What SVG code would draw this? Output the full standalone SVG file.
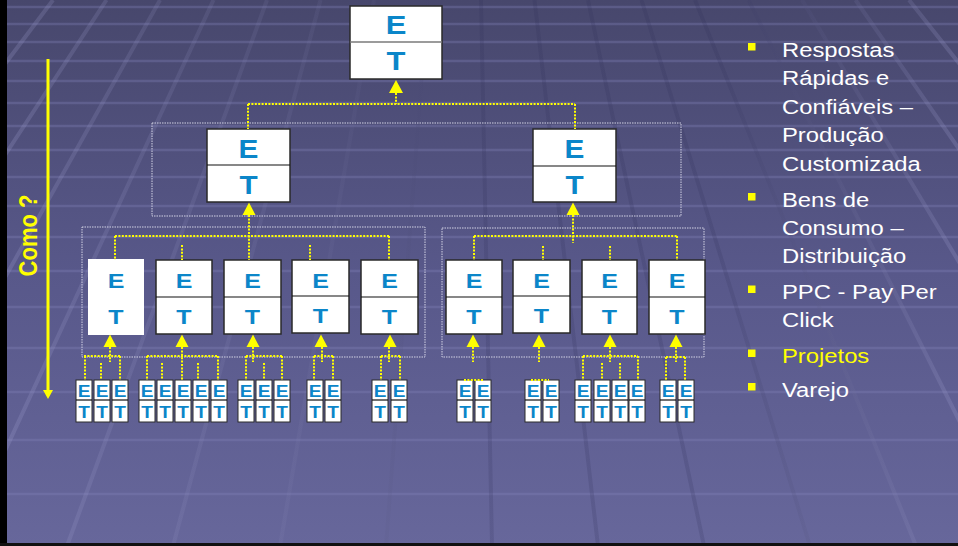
<svg xmlns="http://www.w3.org/2000/svg" width="958" height="546" viewBox="0 0 958 546">
<defs>
<linearGradient id="bg" x1="0" y1="0" x2="0" y2="1">
<stop offset="0" stop-color="#47476c"/>
<stop offset="0.5" stop-color="#58588a"/>
<stop offset="1" stop-color="#67679b"/>
</linearGradient>
<linearGradient id="vg" gradientUnits="userSpaceOnUse" x1="0" y1="0" x2="958" y2="0">
<stop offset="0" stop-color="#a0a0d0" stop-opacity="0.24"/>
<stop offset="0.3" stop-color="#8a8ab8" stop-opacity="0.12"/>
<stop offset="0.5" stop-color="#2c2c55" stop-opacity="0.18"/>
<stop offset="0.75" stop-color="#2c2c55" stop-opacity="0.18"/>
<stop offset="1" stop-color="#a0a0d0" stop-opacity="0.24"/>
</linearGradient>
<style>
.hl{stroke:#8282b6;stroke-opacity:0.35;stroke-width:2.5}
.vl{stroke:url(#vg);stroke-width:4}
.box{fill:#fff;stroke:#2a2a2a;stroke-width:1.5}
.sb{fill:#fff;stroke:#2a2a2a;stroke-width:1}
.dv{stroke:#111;stroke-width:1.2}
.lt{font-family:"Liberation Sans",Arial,sans-serif;font-weight:bold;fill:#0b86c9;text-anchor:middle}
.f1{font-size:26px}.f2{font-size:25px}.f3{font-size:21px}.f4{font-size:16px}
.dot{fill:none;stroke:#ffff00;stroke-width:2;stroke-dasharray:2 1.4}
.cont{fill:none;stroke:#d2d2e4;stroke-width:1;stroke-dasharray:1.5 1}
.ah{fill:#ffff00}
.tx{font-family:"Liberation Sans",Arial,sans-serif;font-size:20px;fill:#ffffff}
</style>
</defs>
<g id="background">
<rect x="0" y="0" width="958" height="546" fill="url(#bg)"/>
<path class="hl" d="M0,7H958M0,24H958M0,42H958M0,61H958M0,81H958M0,103H958M0,126H958M0,150H958M0,177H958M0,206H958M0,237H958M0,271H958M0,307H958M0,348H958M0,392H958M0,440H958M0,494H958"/>
<path class="vl" d="M53,0L-357,546M106.5,0L-251,546M160,0L-145,546M213.5,0L-39,546M267,0L67,546M320.5,0L173,546M374,0L280,546M427.5,0L386,546M481,0L492,546M534.5,0L598,546M588,0L704,546M641.5,0L810,546M695,0L916,546M748.5,0L1022,546M802,0L1129,546M855.5,0L1235,546M909,0L1341,546"/>
<rect x="0" y="0" width="7" height="546" fill="#000"/>
<rect x="0" y="543" width="958" height="3" fill="#111"/>
</g>
<g id="containers">
<rect class="cont" x="152" y="123" width="529" height="93"/>
<rect class="cont" x="82" y="227" width="343" height="130"/>
<rect class="cont" x="442" y="228" width="262" height="129"/>
</g>
<g id="como">
<line x1="48" y1="59" x2="48" y2="391" stroke="#ffff00" stroke-width="3"/>
<polygon class="ah" points="43,390 53,390 48,399"/>
<text transform="translate(37,235.5) scale(1.19,1) rotate(-90)" font-family="Liberation Sans, Arial, sans-serif" font-weight="bold" font-size="22" fill="#ffff00" text-anchor="middle">Como ?</text>
</g>
<g id="n-top"><rect class="box" x="350" y="6" width="92" height="73"/><line x1="350" y1="42" x2="442" y2="42" stroke="#7a7a7a" stroke-width="1.5"/><text class="lt f1" transform="translate(396,34) scale(1.19,1)">E</text><text class="lt f1" transform="translate(396,70) scale(1.19,1)">T</text></g>
<g id="n-l2a"><rect class="box" x="207" y="129" width="83" height="73"/><line class="dv" x1="207" y1="165" x2="290" y2="165"/><text class="lt f2" transform="translate(248.5,158) scale(1.19,1)">E</text><text class="lt f2" transform="translate(248.5,194) scale(1.19,1)">T</text></g>
<g id="n-l2b"><rect class="box" x="533" y="129" width="83" height="73"/><line class="dv" x1="533" y1="166" x2="616" y2="166"/><text class="lt f2" transform="translate(574.5,158) scale(1.19,1)">E</text><text class="lt f2" transform="translate(574.5,194) scale(1.19,1)">T</text></g>
<g id="n-l3-1"><rect x="88" y="259" width="56" height="76" fill="#fff"/><text class="lt f3" transform="translate(116,288) scale(1.19,1)">E</text><text class="lt f3" transform="translate(116,324) scale(1.19,1)">T</text></g>
<g id="n-l3-2"><rect class="box" x="156" y="260" width="56" height="74"/><line class="dv" x1="156" y1="297" x2="212" y2="297"/><text class="lt f3" transform="translate(184,288) scale(1.19,1)">E</text><text class="lt f3" transform="translate(184,324) scale(1.19,1)">T</text></g>
<g id="n-l3-3"><rect class="box" x="224" y="260" width="57" height="74"/><line class="dv" x1="224" y1="297" x2="281" y2="297"/><text class="lt f3" transform="translate(252.5,288) scale(1.19,1)">E</text><text class="lt f3" transform="translate(252.5,324) scale(1.19,1)">T</text></g>
<g id="n-l3-4"><rect class="box" x="292" y="260" width="57" height="73"/><line class="dv" x1="292" y1="296" x2="349" y2="296"/><text class="lt f3" transform="translate(320.5,288) scale(1.19,1)">E</text><text class="lt f3" transform="translate(320.5,323) scale(1.19,1)">T</text></g>
<g id="n-l3-5"><rect class="box" x="361" y="260" width="57" height="74"/><line class="dv" x1="361" y1="297" x2="418" y2="297"/><text class="lt f3" transform="translate(389.5,288) scale(1.19,1)">E</text><text class="lt f3" transform="translate(389.5,324) scale(1.19,1)">T</text></g>
<g id="n-l3-6"><rect class="box" x="446" y="260" width="56" height="74"/><line class="dv" x1="446" y1="297" x2="502" y2="297"/><text class="lt f3" transform="translate(474,288) scale(1.19,1)">E</text><text class="lt f3" transform="translate(474,324) scale(1.19,1)">T</text></g>
<g id="n-l3-7"><rect class="box" x="513" y="260" width="57" height="73"/><line class="dv" x1="513" y1="296" x2="570" y2="296"/><text class="lt f3" transform="translate(541.5,288) scale(1.19,1)">E</text><text class="lt f3" transform="translate(541.5,323) scale(1.19,1)">T</text></g>
<g id="n-l3-8"><rect class="box" x="582" y="260" width="55" height="74"/><line class="dv" x1="582" y1="297" x2="637" y2="297"/><text class="lt f3" transform="translate(609.5,288) scale(1.19,1)">E</text><text class="lt f3" transform="translate(609.5,324) scale(1.19,1)">T</text></g>
<g id="n-l3-9"><rect class="box" x="649" y="260" width="56" height="74"/><line class="dv" x1="649" y1="297" x2="705" y2="297"/><text class="lt f3" transform="translate(677,288) scale(1.19,1)">E</text><text class="lt f3" transform="translate(677,324) scale(1.19,1)">T</text></g>
<g id="n-a1"><rect class="sb" x="76" y="380" width="16" height="42"/><line class="dv" x1="76" y1="400" x2="92" y2="400"/><text class="lt f4" transform="translate(84,397) scale(1.19,1)">E</text><text class="lt f4" transform="translate(84,418) scale(1.19,1)">T</text></g>
<g id="n-a2"><rect class="sb" x="94" y="380" width="16" height="42"/><line class="dv" x1="94" y1="400" x2="110" y2="400"/><text class="lt f4" transform="translate(102,397) scale(1.19,1)">E</text><text class="lt f4" transform="translate(102,418) scale(1.19,1)">T</text></g>
<g id="n-a3"><rect class="sb" x="112" y="380" width="16" height="42"/><line class="dv" x1="112" y1="400" x2="128" y2="400"/><text class="lt f4" transform="translate(120,397) scale(1.19,1)">E</text><text class="lt f4" transform="translate(120,418) scale(1.19,1)">T</text></g>
<g id="n-b1"><rect class="sb" x="139" y="380" width="16" height="42"/><line class="dv" x1="139" y1="400" x2="155" y2="400"/><text class="lt f4" transform="translate(147,397) scale(1.19,1)">E</text><text class="lt f4" transform="translate(147,418) scale(1.19,1)">T</text></g>
<g id="n-b2"><rect class="sb" x="157" y="380" width="16" height="42"/><line class="dv" x1="157" y1="400" x2="173" y2="400"/><text class="lt f4" transform="translate(165,397) scale(1.19,1)">E</text><text class="lt f4" transform="translate(165,418) scale(1.19,1)">T</text></g>
<g id="n-b3"><rect class="sb" x="175" y="380" width="16" height="42"/><line class="dv" x1="175" y1="400" x2="191" y2="400"/><text class="lt f4" transform="translate(183,397) scale(1.19,1)">E</text><text class="lt f4" transform="translate(183,418) scale(1.19,1)">T</text></g>
<g id="n-b4"><rect class="sb" x="193" y="380" width="16" height="42"/><line class="dv" x1="193" y1="400" x2="209" y2="400"/><text class="lt f4" transform="translate(201,397) scale(1.19,1)">E</text><text class="lt f4" transform="translate(201,418) scale(1.19,1)">T</text></g>
<g id="n-b5"><rect class="sb" x="211" y="380" width="16" height="42"/><line class="dv" x1="211" y1="400" x2="227" y2="400"/><text class="lt f4" transform="translate(219,397) scale(1.19,1)">E</text><text class="lt f4" transform="translate(219,418) scale(1.19,1)">T</text></g>
<g id="n-c1"><rect class="sb" x="238" y="380" width="16" height="42"/><line class="dv" x1="238" y1="400" x2="254" y2="400"/><text class="lt f4" transform="translate(246,397) scale(1.19,1)">E</text><text class="lt f4" transform="translate(246,418) scale(1.19,1)">T</text></g>
<g id="n-c2"><rect class="sb" x="256" y="380" width="16" height="42"/><line class="dv" x1="256" y1="400" x2="272" y2="400"/><text class="lt f4" transform="translate(264,397) scale(1.19,1)">E</text><text class="lt f4" transform="translate(264,418) scale(1.19,1)">T</text></g>
<g id="n-c3"><rect class="sb" x="274" y="380" width="16" height="42"/><line class="dv" x1="274" y1="400" x2="290" y2="400"/><text class="lt f4" transform="translate(282,397) scale(1.19,1)">E</text><text class="lt f4" transform="translate(282,418) scale(1.19,1)">T</text></g>
<g id="n-d1"><rect class="sb" x="307" y="380" width="16" height="42"/><line class="dv" x1="307" y1="400" x2="323" y2="400"/><text class="lt f4" transform="translate(315,397) scale(1.19,1)">E</text><text class="lt f4" transform="translate(315,418) scale(1.19,1)">T</text></g>
<g id="n-d2"><rect class="sb" x="325" y="380" width="16" height="42"/><line class="dv" x1="325" y1="400" x2="341" y2="400"/><text class="lt f4" transform="translate(333,397) scale(1.19,1)">E</text><text class="lt f4" transform="translate(333,418) scale(1.19,1)">T</text></g>
<g id="n-e1"><rect class="sb" x="372" y="380" width="16" height="42"/><line class="dv" x1="372" y1="400" x2="388" y2="400"/><text class="lt f4" transform="translate(380,397) scale(1.19,1)">E</text><text class="lt f4" transform="translate(380,418) scale(1.19,1)">T</text></g>
<g id="n-e2"><rect class="sb" x="391" y="380" width="16" height="42"/><line class="dv" x1="391" y1="400" x2="407" y2="400"/><text class="lt f4" transform="translate(399,397) scale(1.19,1)">E</text><text class="lt f4" transform="translate(399,418) scale(1.19,1)">T</text></g>
<g id="n-f1"><rect class="sb" x="457" y="380" width="16" height="42"/><line class="dv" x1="457" y1="400" x2="473" y2="400"/><text class="lt f4" transform="translate(465,397) scale(1.19,1)">E</text><text class="lt f4" transform="translate(465,418) scale(1.19,1)">T</text></g>
<g id="n-f2"><rect class="sb" x="475" y="380" width="16" height="42"/><line class="dv" x1="475" y1="400" x2="491" y2="400"/><text class="lt f4" transform="translate(483,397) scale(1.19,1)">E</text><text class="lt f4" transform="translate(483,418) scale(1.19,1)">T</text></g>
<g id="n-g1"><rect class="sb" x="525" y="380" width="16" height="42"/><line class="dv" x1="525" y1="400" x2="541" y2="400"/><text class="lt f4" transform="translate(533,397) scale(1.19,1)">E</text><text class="lt f4" transform="translate(533,418) scale(1.19,1)">T</text></g>
<g id="n-g2"><rect class="sb" x="543" y="380" width="16" height="42"/><line class="dv" x1="543" y1="400" x2="559" y2="400"/><text class="lt f4" transform="translate(551,397) scale(1.19,1)">E</text><text class="lt f4" transform="translate(551,418) scale(1.19,1)">T</text></g>
<g id="n-h1"><rect class="sb" x="575" y="380" width="16" height="42"/><line class="dv" x1="575" y1="400" x2="591" y2="400"/><text class="lt f4" transform="translate(583,397) scale(1.19,1)">E</text><text class="lt f4" transform="translate(583,418) scale(1.19,1)">T</text></g>
<g id="n-h2"><rect class="sb" x="594" y="380" width="16" height="42"/><line class="dv" x1="594" y1="400" x2="610" y2="400"/><text class="lt f4" transform="translate(602,397) scale(1.19,1)">E</text><text class="lt f4" transform="translate(602,418) scale(1.19,1)">T</text></g>
<g id="n-h3"><rect class="sb" x="612" y="380" width="16" height="42"/><line class="dv" x1="612" y1="400" x2="628" y2="400"/><text class="lt f4" transform="translate(620,397) scale(1.19,1)">E</text><text class="lt f4" transform="translate(620,418) scale(1.19,1)">T</text></g>
<g id="n-h4"><rect class="sb" x="629" y="380" width="16" height="42"/><line class="dv" x1="629" y1="400" x2="645" y2="400"/><text class="lt f4" transform="translate(637,397) scale(1.19,1)">E</text><text class="lt f4" transform="translate(637,418) scale(1.19,1)">T</text></g>
<g id="n-i1"><rect class="sb" x="660" y="380" width="16" height="42"/><line class="dv" x1="660" y1="400" x2="676" y2="400"/><text class="lt f4" transform="translate(668,397) scale(1.19,1)">E</text><text class="lt f4" transform="translate(668,418) scale(1.19,1)">T</text></g>
<g id="n-i2"><rect class="sb" x="678" y="380" width="16" height="42"/><line class="dv" x1="678" y1="400" x2="694" y2="400"/><text class="lt f4" transform="translate(686,397) scale(1.19,1)">E</text><text class="lt f4" transform="translate(686,418) scale(1.19,1)">T</text></g>
<g id="connectors">
<path class="dot" d="M396,93V104M248,104H575M248,104V129M575,104V129"/>
<path class="dot" d="M249,215V260M115,236H389M115,236V260M389,236V260M182,245V260M310,245V260"/>
<path class="dot" d="M573,215V243M474,236H677M474,236V260M677,236V260M543,246V260M610,246V260"/>
<path class="dot" d="M110,347V362M84,356H121M85,356V380M120,356V380M101,363V380"/>
<path class="dot" d="M182,347V380M147,356H218M147,356V380M218,356V380M162,363V380M198,363V380"/>
<path class="dot" d="M253,347V362M246,356H282M246,356V380M282,356V380M264,363V380"/>
<path class="dot" d="M322,347V362M314,356H333M314,356V380M333,356V380"/>
<path class="dot" d="M389,347V362M381,356H400M381,356V380M400,356V380"/>
<path class="dot" d="M473,347V362M464,380H483"/>
<path class="dot" d="M539,347V362M531,380H549"/>
<path class="dot" d="M610,347V362M583,356H638M583,356V380M638,356V380M602,363V380M620,363V380"/>
<path class="dot" d="M676,347V362M666,357H685M666,357V380M685,357V380"/>
<polygon class="ah" points="389,93 403,93 396,80"/>
<polygon class="ah" points="242.5,215 255.5,215 249,202.5"/>
<polygon class="ah" points="566.5,215 579.5,215 573,202.5"/>
<polygon class="ah" points="103.5,347 116.5,347 110,334.5"/>
<polygon class="ah" points="175.5,347 188.5,347 182,334.5"/>
<polygon class="ah" points="246.5,347 259.5,347 253,334.5"/>
<polygon class="ah" points="314.5,347 327.5,347 321,334.5"/>
<polygon class="ah" points="383.5,347 396.5,347 390,334.5"/>
<polygon class="ah" points="466.5,347 479.5,347 473,334.5"/>
<polygon class="ah" points="532.5,347 545.5,347 539,334.5"/>
<polygon class="ah" points="603.5,347 616.5,347 610,334.5"/>
<polygon class="ah" points="669.5,347 682.5,347 676,334.5"/>
</g>
<g id="bullets">
<rect class="ah" x="748" y="43" width="7.5" height="7.5"/>
<rect class="ah" x="748" y="193" width="7.5" height="7.5"/>
<rect class="ah" x="748" y="285.5" width="7.5" height="7.5"/>
<rect class="ah" x="748" y="349.5" width="7.5" height="7.5"/>
<rect class="ah" x="748" y="383" width="7.5" height="7.5"/>
<g transform="translate(782,0) scale(1.19,1)">
<text class="tx" x="0" y="57">Respostas</text>
<text class="tx" x="0" y="85.5">Rápidas e</text>
<text class="tx" x="0" y="114">Confiáveis –</text>
<text class="tx" x="0" y="142.5">Produção</text>
<text class="tx" x="0" y="171">Customizada</text>
<text class="tx" x="0" y="207">Bens de</text>
<text class="tx" x="0" y="235">Consumo –</text>
<text class="tx" x="0" y="263.5">Distribuição</text>
<text class="tx" x="0" y="299.5">PPC - Pay Per</text>
<text class="tx" x="0" y="327.5">Click</text>
<text class="tx" x="0" y="363.5" style="fill:#ffff00">Projetos</text>
<text class="tx" x="0" y="397">Varejo</text>
</g>
</g>
</svg>
